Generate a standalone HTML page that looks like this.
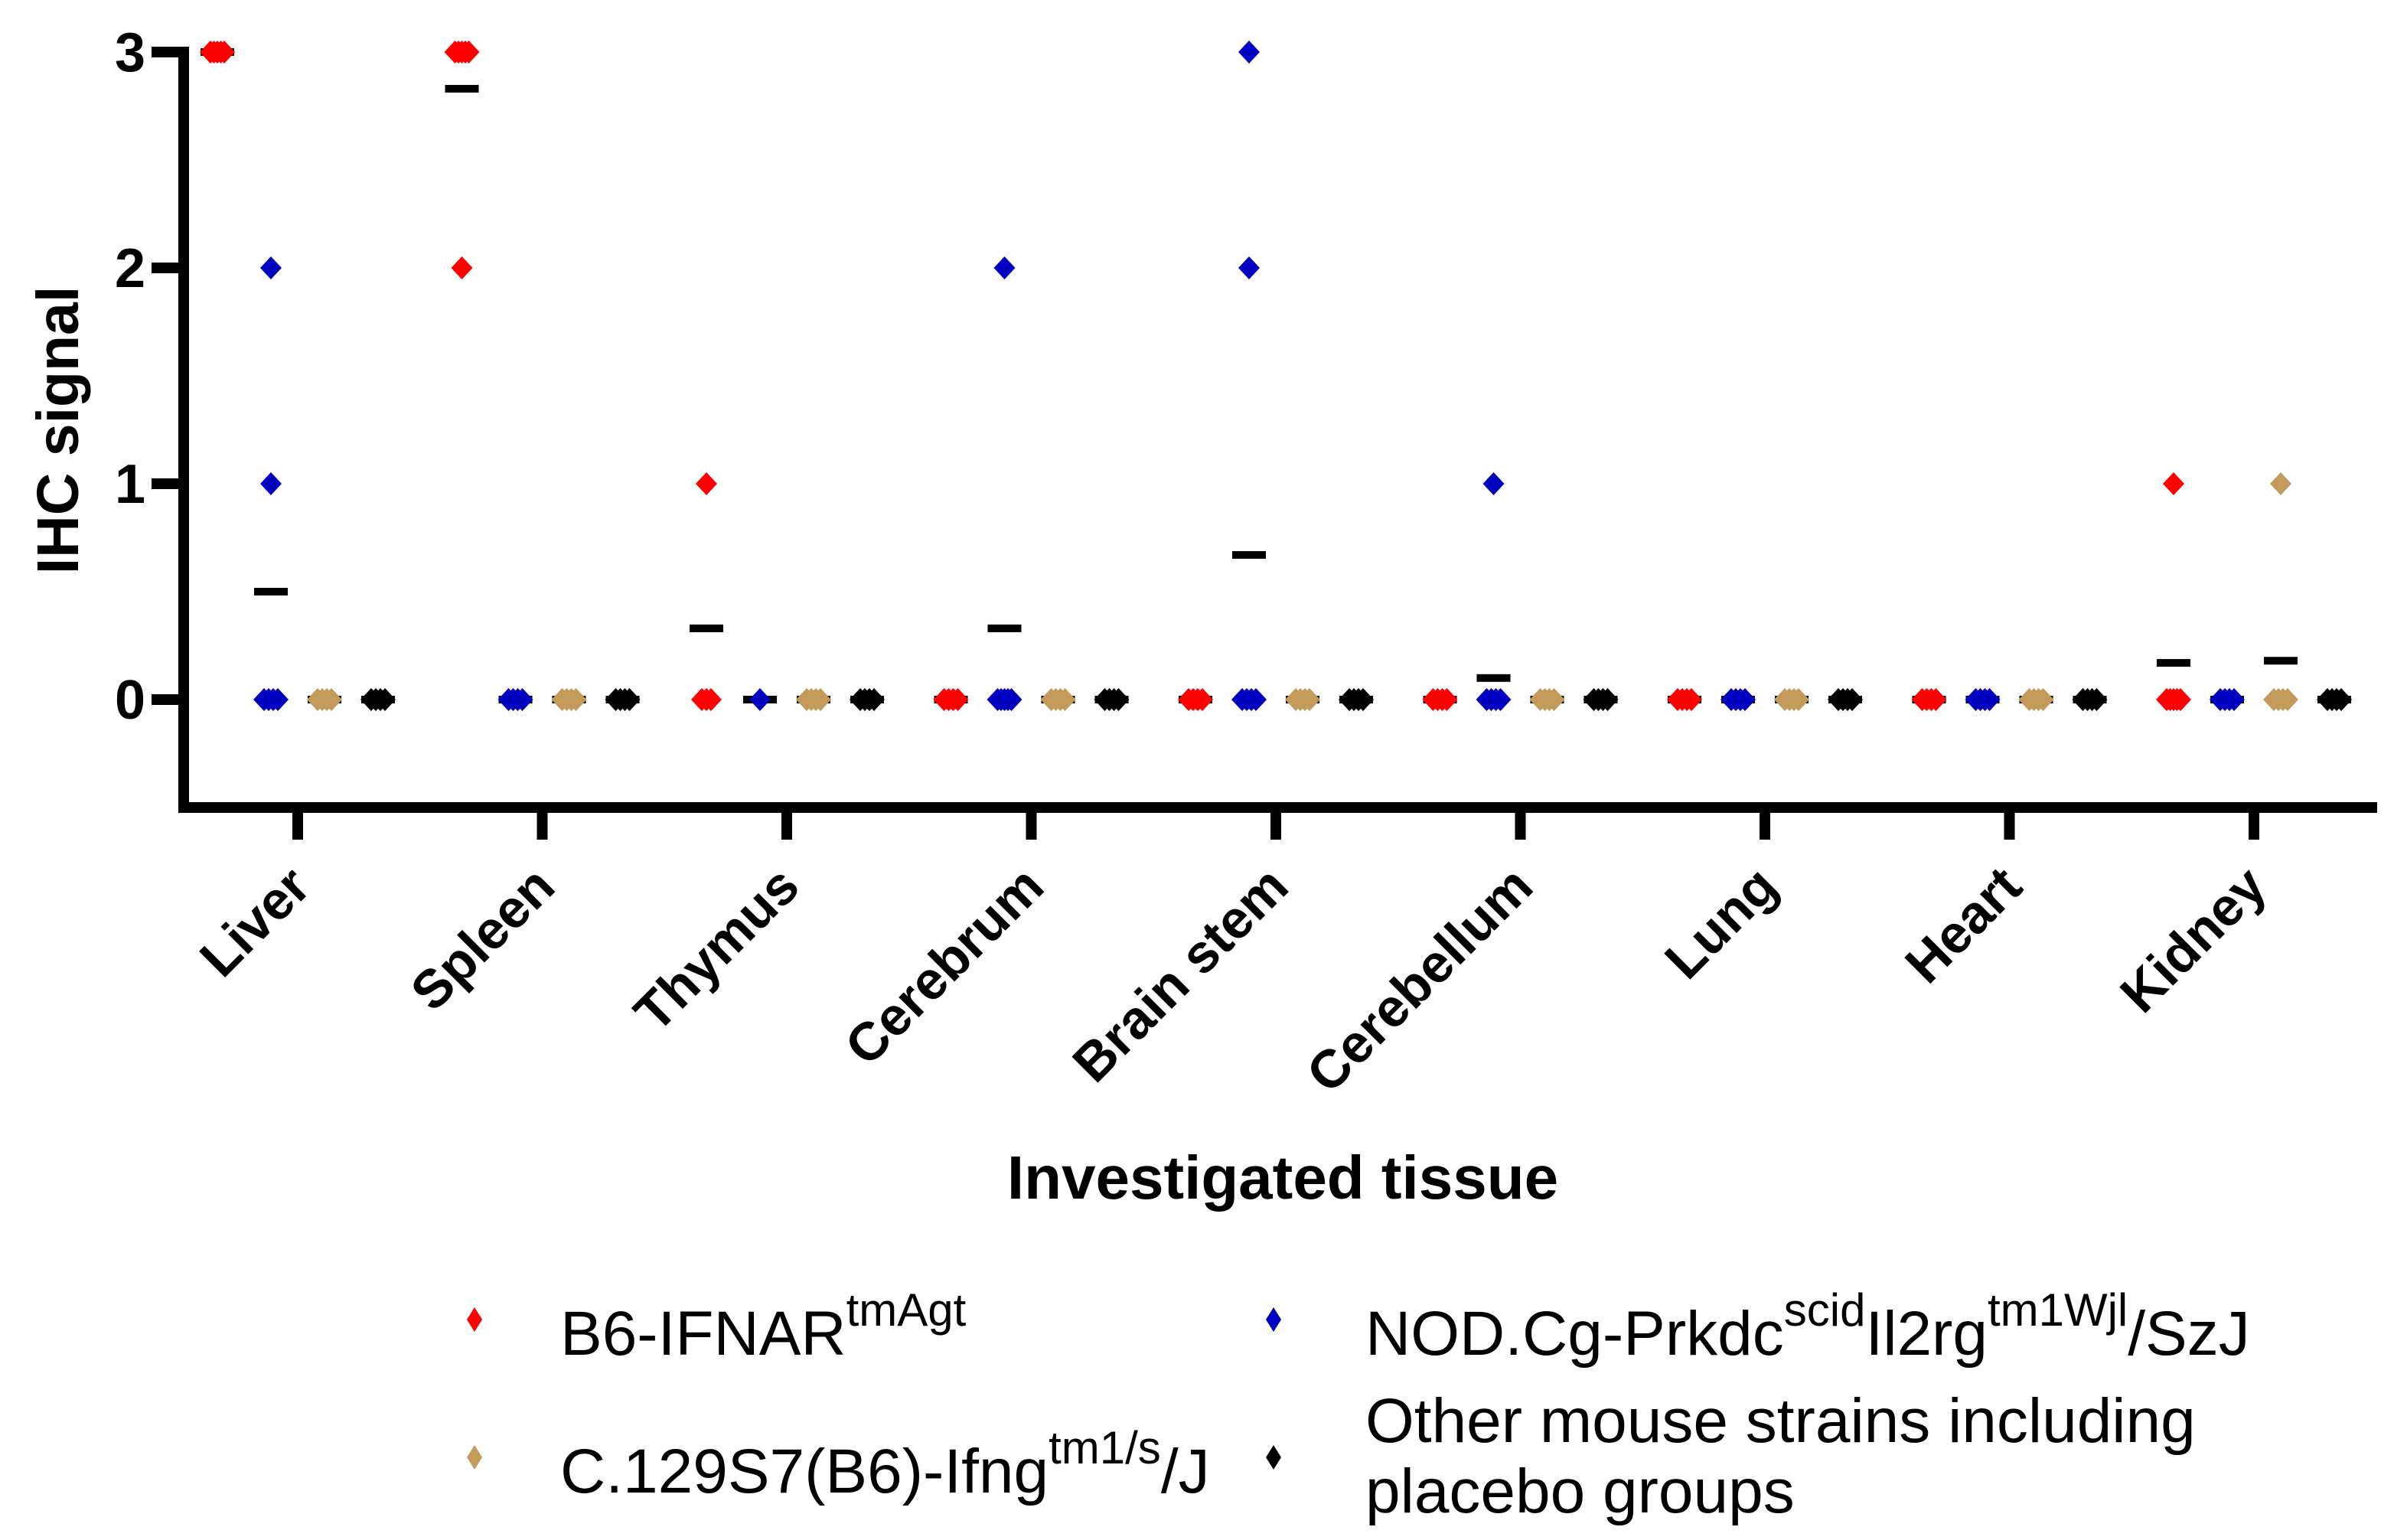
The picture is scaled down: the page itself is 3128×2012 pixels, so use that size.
<!DOCTYPE html>
<html><head><meta charset="utf-8"><style>
html,body{margin:0;padding:0;background:#fff;}
svg{display:block;font-family:"Liberation Sans",Arial,sans-serif;}
</style></head><body>
<svg id="chart" width="3128" height="2012" viewBox="0 0 3128 2012" xmlns="http://www.w3.org/2000/svg">
<rect width="3128" height="2012" fill="#fff"/>
<g id="plot"></g>
<text transform="translate(102,562) rotate(-90)" text-anchor="middle" font-size="77" font-weight="bold">IHC signal</text>
<text x="1676" y="1566" text-anchor="middle" font-size="80" font-weight="bold">Investigated tissue</text>
<g font-size="82">
  <g>
    <polygon points="620,1708 630,1724 620,1740 610,1724" fill="#ff0000"/>
    <text x="732" y="1770">B6-IFNAR<tspan font-size="60" dy="-38">tmAgt</tspan></text>
  </g>
  <g>
    <polygon points="1664,1708 1674,1724 1664,1740 1654,1724" fill="#0000c0"/>
    <text x="1784" y="1770">NOD.Cg-Prkdc<tspan font-size="60" dy="-38">scid</tspan><tspan dy="38">Il2rg</tspan><tspan font-size="60" dy="-38">tm1Wjl</tspan><tspan dy="38">/SzJ</tspan></text>
  </g>
  <g>
    <polygon points="620,1888 630,1904 620,1920 610,1904" fill="#c49a5a"/>
    <text x="732" y="1950">C.129S7(B6)-Ifng<tspan font-size="60" dy="-38">tm1/s</tspan><tspan dy="38">/J</tspan></text>
  </g>
  <g>
    <polygon points="1664,1888 1674,1904 1664,1920 1654,1904" fill="#000"/>
    <text x="1784" y="1884">Other mouse strains including</text>
    <text x="1784" y="1976">placebo groups</text>
  </g>
</g>
</svg>
<script>
const categories = ["Liver","Spleen","Thymus","Cerebrum","Brain stem","Cerebellum","Lung","Heart","Kidney"];
const yTicks = [0,1,2,3];
const redPoints = [[3,3,3,3,3],[3,3,3,3,3,2],[1,0,0,0],[0,0,0,0],[0,0,0,0],[0,0,0,0],[0,0,0,0],[0,0,0,0],[1,0,0,0,0,0]];
const bluePoints = [[2,1,0,0,0,0],[0,0,0,0],[0],[2,0,0,0,0,0],[3,2,0,0,0,0],[1,0,0,0,0],[0,0,0,0],[0,0,0,0],[0,0,0,0]];
const tanPoints = [[0,0,0,0],[0,0,0,0],[0,0,0,0],[0,0,0,0],[0,0,0,0],[0,0,0,0],[0,0,0,0],[0,0,0,0],[1,0,0,0,0]];
const blackPoints = [[0,0,0,0],[0,0,0,0],[0,0,0,0],[0,0,0,0],[0,0,0,0],[0,0,0,0],[0,0,0,0],[0,0,0,0],[0,0,0,0]];
const redMeans = [3,2.83,0.33,0,0,0,0,0,0.17];
const blueMeans = [0.5,0,0,0.33,0.67,0.1,0,0,0];
const tanMeans = [0,0,0,0,0,0,0,0,0.18];
const blackMeans = [0,0,0,0,0,0,0,0,0];

const NS = "http://www.w3.org/2000/svg";
const plot = document.getElementById("plot");
const X0 = 389, XSTEP = 319.5;
const Y0 = 914, YUNIT = 282;
function xScale(i){ return X0 + XSTEP*i; }
function yScale(v){ return Y0 - YUNIT*v; }
function mk(tag, attrs){ const e = document.createElementNS(NS, tag); for (const k in attrs) e.setAttribute(k, attrs[k]); return e; }

const series = [
  {name:"b6-ifnar", pts:redPoints, means:redMeans, color:"#ff0000", off:-105},
  {name:"nod-scid", pts:bluePoints, means:blueMeans, color:"#0000c0", off:-35},
  {name:"c129s7-ifng", pts:tanPoints, means:tanMeans, color:"#c49a5a", off:35},
  {name:"other-strains", pts:blackPoints, means:blackMeans, color:"#000000", off:105}
];

series.forEach(s => {
  s.means.forEach((m, i) => {
    const cx = xScale(i) + s.off, cy = yScale(m);
    const r = mk("rect", {x: cx-22, y: cy-5, width: 44, height: 10, fill: "#000"});
    
    
    plot.appendChild(r);
  });
});
series.forEach(s => {
  s.pts.forEach((vals, i) => {
    const counts = {};
    vals.forEach(v => { counts[v] = (counts[v]||0) + 1; });
    const seen = {};
    vals.forEach(v => {
      const n = counts[v], k = seen[v] = (seen[v]===undefined ? 0 : seen[v]+1);
      const step = n > 1 ? Math.min(6, 18/(n-1)) : 0;
      const cx = xScale(i) + s.off + (k - (n-1)/2)*step, cy = yScale(v);
      const p = mk("polygon", {points: `${cx},${cy-15} ${cx+14},${cy} ${cx},${cy+15} ${cx-14},${cy}`, fill: s.color});
      
      
      plot.appendChild(p);
    });
  });
});

const yAxis = mk("line", {x1: 240, y1: yScale(3)-7, x2: 240, y2: yScale(-0.5), stroke: "#000", "stroke-width": 14});


plot.appendChild(yAxis);
const xAxis = mk("line", {x1: 233, y1: yScale(-0.5), x2: 3106, y2: yScale(-0.5), stroke: "#000", "stroke-width": 14});


plot.appendChild(xAxis);

yTicks.forEach(t => {
  const tl = mk("line", {x1: 198, y1: yScale(t), x2: 240, y2: yScale(t), stroke: "#000", "stroke-width": 14});
  
  
  plot.appendChild(tl);
  const lb = mk("text", {x: 190, y: yScale(t)+25, "text-anchor": "end", "font-size": 72, "font-weight": "bold"});
  lb.textContent = String(t);
  
  
  plot.appendChild(lb);
});
categories.forEach((c, i) => {
  const x = xScale(i), yb = yScale(-0.5);
  const tl = mk("line", {x1: x, y1: yb, x2: x, y2: yb+42, stroke: "#000", "stroke-width": 14});
  
  
  plot.appendChild(tl);
  const lb = mk("text", {transform: `translate(${x+20},1162) rotate(-45)`, "text-anchor": "end", "font-size": 70, "font-weight": "bold"});
  lb.textContent = c;
  
  
  plot.appendChild(lb);
});
</script>
</body></html>
